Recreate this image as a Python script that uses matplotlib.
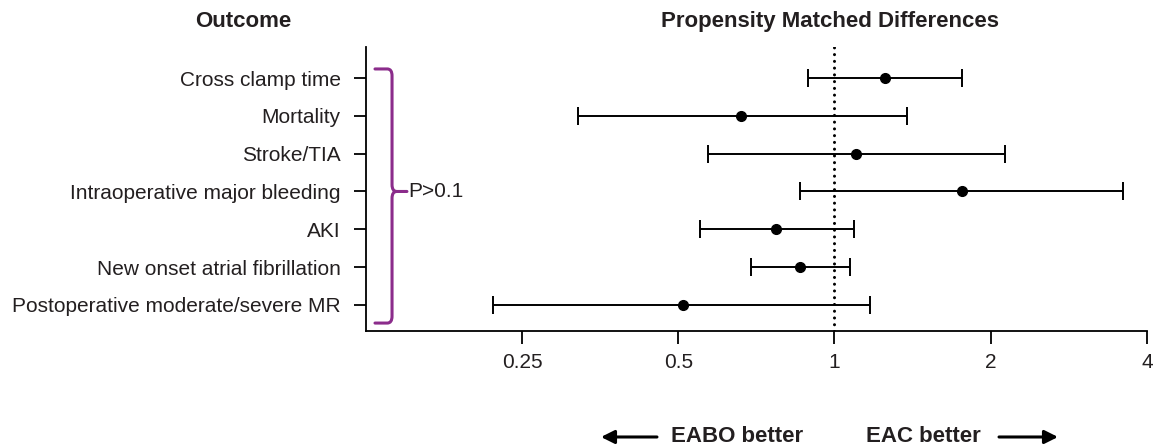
import numpy as np
import matplotlib
matplotlib.use('Agg')
import matplotlib.pyplot as plt
import matplotlib.transforms as mtransforms
from matplotlib.path import Path
from matplotlib.patches import PathPatch

plt.rcParams['font.family'] = ['Liberation Sans', 'DejaVu Sans']

# data (ratio scale, estimate with 95% CI)
outcomes = ['Cross clamp time', 'Mortality', 'Stroke/TIA',
            'Intraoperative major bleeding', 'AKI',
            'New onset atrial fibrillation',
            'Postoperative moderate/severe MR']
estimate = [1.25, 0.66, 1.10, 1.76, 0.77, 0.86, 0.51]
lower = [0.89, 0.32, 0.57, 0.86, 0.55, 0.69, 0.22]
upper = [1.76, 1.38, 2.13, 3.60, 1.09, 1.07, 1.17]
xticks = [0.25, 0.5, 1, 2, 4]
xticklabels = ['0.25', '0.5', '1', '2', '4']

text_col = '#231f20'
brace_col = '#8b2c8b'

est = np.array(estimate)
lo = np.array(lower)
hi = np.array(upper)
rows = np.arange(1, len(outcomes) + 1)

fig = plt.figure(figsize=(11.54, 4.47), dpi=100)
ax = fig.add_axes([0.3169, 0.2595, 0.6770, 0.6353])

# reference line at 1
ax.axvline(1, color='black', lw=2.2, linestyle=(0, (0.01, 2.2)),
           dash_capstyle='round', zorder=1)

ax.errorbar(est, rows, xerr=[est - lo, hi - est], fmt='o', color='black',
            ms=7, capsize=6.5, elinewidth=1.4, capthick=1.4, zorder=3)

ax.set_xscale('log')
ax.set_xlim(0.125, 4)
ax.set_ylim(7.69, 0.18)
ax.set_xticks(xticks)
ax.set_xticklabels(xticklabels)
ax.xaxis.set_minor_locator(matplotlib.ticker.NullLocator())
ax.set_yticks(rows)
ax.set_yticklabels(outcomes)

for s in ['top', 'right']:
    ax.spines[s].set_visible(False)
for s in ['left', 'bottom']:
    ax.spines[s].set_linewidth(1.3)
ax.tick_params(axis='both', length=9, width=1.3, labelsize=15,
               labelcolor=text_col)
ax.tick_params(axis='x', pad=7)
ax.tick_params(axis='y', pad=9)

# curly brace grouping all outcomes
trans = mtransforms.blended_transform_factory(ax.transAxes, ax.transData)
x_end, x_v, x_tip = 0.0119, 0.0337, 0.0528
y_top, y_mid, y_bot = 0.76, 4.0, 7.48
rx, ry = 0.006, 0.18
verts = [(x_end, y_top), (x_v - rx, y_top), (x_v, y_top), (x_v, y_top + ry),
         (x_v, y_mid - ry), (x_v, y_mid), (x_v + rx, y_mid), (x_tip, y_mid),
         (x_end, y_bot), (x_v - rx, y_bot), (x_v, y_bot), (x_v, y_bot - ry),
         (x_v, y_mid + ry), (x_v, y_mid), (x_v + rx, y_mid)]
codes = [Path.MOVETO, Path.LINETO, Path.CURVE3, Path.CURVE3,
         Path.LINETO, Path.CURVE3, Path.CURVE3, Path.LINETO,
         Path.MOVETO, Path.LINETO, Path.CURVE3, Path.CURVE3,
         Path.LINETO, Path.CURVE3, Path.CURVE3]
brace = PathPatch(Path(verts, codes), fill=False, edgecolor=brace_col,
                  lw=2.2, transform=trans, clip_on=False,
                  capstyle='round', joinstyle='round')
ax.add_patch(brace)
ax.text(0.054, y_mid, 'P>0.1', transform=trans, fontsize=15,
        color=text_col, va='center', ha='left')

# headers
fig.text(0.2106, 0.951, 'Outcome', fontsize=16, fontweight='bold',
         color=text_col, ha='center', va='center')
fig.text(0.7195, 0.951, 'Propensity Matched Differences', fontsize=16,
         fontweight='bold', color=text_col, ha='center', va='center')

# direction labels at the bottom
fig.text(0.6958, 0.0224, 'EABO better', fontsize=16, fontweight='bold',
         color=text_col, ha='right', va='center')
fig.text(0.7504, 0.0224, 'EAC better', fontsize=16, fontweight='bold',
         color=text_col, ha='left', va='center')
arrow = dict(arrowstyle='-|>', lw=2.2, color='black', mutation_scale=20,
             shrinkA=0, shrinkB=0)
fig.add_artist(matplotlib.patches.FancyArrowPatch(
    (0.5693, 0.0224), (0.5208, 0.0224), transform=fig.transFigure, **arrow))
fig.add_artist(matplotlib.patches.FancyArrowPatch(
    (0.8657, 0.0224), (0.9168, 0.0224), transform=fig.transFigure, **arrow))

fig.savefig('out.png', dpi=100)
